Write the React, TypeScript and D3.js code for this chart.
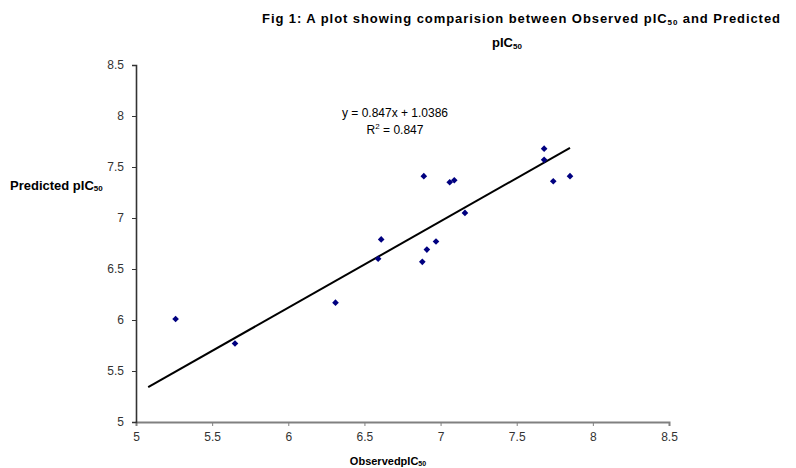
import React, { useEffect, useRef } from 'react'
import * as d3 from 'd3'

const WIDTH = 796
const HEIGHT = 468

// observed / predicted pIC50 values
const observed = [5.26, 5.65, 6.31, 6.59, 6.61, 6.88, 6.91, 6.97, 6.89, 7.06, 7.09, 7.16, 7.68, 7.68, 7.74, 7.85]
const predicted = [6.01, 5.77, 6.17, 6.6, 6.79, 6.57, 6.69, 6.77, 7.41, 7.35, 7.37, 7.05, 7.68, 7.57, 7.36, 7.41]

const xTicks = [5, 5.5, 6, 6.5, 7, 7.5, 8, 8.5]
const yTicks = [5, 5.5, 6, 6.5, 7, 7.5, 8, 8.5]

const slope = 0.847
const intercept = 1.0386
const trendRange = [5.08, 7.85]

const FONT = 'Arial, "Liberation Sans", sans-serif'

export default function App() {
  const ref = useRef<SVGSVGElement>(null)

  useEffect(() => {
    const svg = d3.select(ref.current)
    svg.selectAll('*').remove()

    const x = d3.scaleLinear().domain([5, 8.5]).range([136, 669])
    const y = d3.scaleLinear().domain([5, 8.5]).range([422, 65])

    svg.append('rect').attr('width', WIDTH).attr('height', HEIGHT).attr('fill', 'white')

    // title, two lines
    const title = svg.append('g')
      .attr('font-family', FONT)
      .attr('font-weight', 'bold')
      .attr('font-size', 13)
      .attr('fill', '#000')
    const t1 = title.append('text').attr('x', 262).attr('y', 23)
      .attr('textLength', 518).attr('lengthAdjust', 'spacing')
    t1.append('tspan').text('Fig 1: A plot showing  comparision  between Observed pIC')
    t1.append('tspan').attr('font-size', 8).attr('dy', 2).text('50')
    t1.append('tspan').attr('dy', -2).text(' and Predicted')
    const t2 = title.append('text').attr('x', 507).attr('y', 47).attr('text-anchor', 'middle')
    t2.append('tspan').text('pIC')
    t2.append('tspan').attr('font-size', 8).attr('dy', 2).text('50')

    // axes
    const xAxis = svg.append('g')
      .attr('transform', 'translate(0, 422)')
      .call(d3.axisBottom(x).tickValues(xTicks).tickSize(4).tickPadding(6).tickFormat(d3.format('')))
    xAxis.select('.domain').attr('stroke', '#808080').attr('stroke-width', 2)
    xAxis.selectAll('.tick line').attr('stroke', '#808080')

    const yAxis = svg.append('g')
      .attr('transform', 'translate(136, 0)')
      .call(d3.axisLeft(y).tickValues(yTicks).tickSize(4).tickPadding(8).tickFormat(d3.format('')))
    yAxis.select('.domain').attr('stroke', '#333').attr('stroke-width', 1.6)
    yAxis.selectAll('.tick line').attr('stroke', '#333')

    svg.selectAll('.tick text')
      .attr('font-family', FONT)
      .attr('font-size', 12)
      .attr('fill', '#333')

    // axis titles
    const xt = svg.append('text')
      .attr('x', 388).attr('y', 465)
      .attr('text-anchor', 'middle')
      .attr('font-family', FONT).attr('font-weight', 'bold').attr('font-size', 11)
    xt.append('tspan').text('ObservedpIC')
    xt.append('tspan').attr('font-size', 7).attr('dy', 1).text('50')

    const yt = svg.append('text')
      .attr('x', 10).attr('y', 190)
      .attr('font-family', FONT).attr('font-weight', 'bold').attr('font-size', 13)
    yt.append('tspan').text('Predicted pIC')
    yt.append('tspan').attr('font-size', 8).attr('dy', 1).text('50')

    // trend line
    const line = d3.line<number>()
      .x((d) => x(d))
      .y((d) => y(slope * d + intercept))
    svg.append('path')
      .attr('d', line(trendRange))
      .attr('stroke', '#000')
      .attr('stroke-width', 2)
      .attr('fill', 'none')

    // points: square turned 45 degrees
    const marker = d3.symbol().type(d3.symbolSquare).size(22)
    svg.append('g')
      .selectAll('path')
      .data(observed)
      .enter()
      .append('path')
      .attr('d', marker)
      .attr('transform', (d, i) => `translate(${x(d)}, ${y(predicted[i])}) rotate(45)`)
      .attr('fill', '#000080')

    // equation
    const eq = svg.append('g')
      .attr('font-family', FONT)
      .attr('font-size', 12)
      .attr('fill', '#000')
      .attr('text-anchor', 'middle')
    eq.append('text').attr('x', 395).attr('y', 117)
      .text(`y = ${slope}x + ${intercept}`)
    const r2 = eq.append('text').attr('x', 395).attr('y', 134)
    r2.append('tspan').text('R')
    r2.append('tspan').attr('font-size', 8).attr('dy', -5).text('2')
    r2.append('tspan').attr('dy', 5).text(` = ${slope}`)
  }, [])

  return (
    <svg
      ref={ref}
      width={WIDTH}
      height={HEIGHT}
      style={{ position: 'absolute', left: 0, top: 0 }}
    ></svg>
  )
}
